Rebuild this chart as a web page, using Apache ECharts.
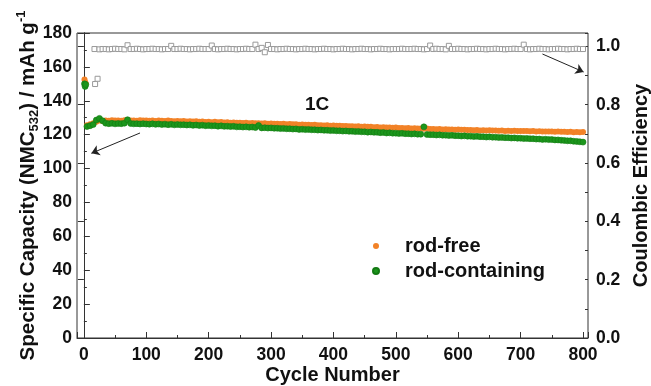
<!DOCTYPE html>
<html>
<head>
<meta charset="utf-8">
<script src="https://cdn.jsdelivr.net/npm/echarts@6/dist/echarts.min.js"></script>
<style>
html,body{margin:0;padding:0;background:#fff;}
#chart{width:651px;height:386px;}
</style>
</head>
<body>
<div id="chart"></div>
<script>
// ---- data ----
const cycles = [1,2,3,5,10,15,20,25,30,35,40,45,50,55,60,65,70,75,80,85,90,95,100,
105,110,115,120,125,130,135,140,145,150,155,160,165,170,175,180,185,190,195,200,
205,210,215,220,225,230,235,240,245,250,255,260,265,270,275,280,285,290,295,300,
305,310,315,320,325,330,335,340,345,350,355,360,365,370,375,380,385,390,395,400,
405,410,415,420,425,430,435,440,445,450,455,460,465,470,475,480,485,490,495,500,
505,510,515,520,525,530,535,540,545,550,555,560,565,570,575,580,585,590,595,600,
605,610,615,620,625,630,635,640,645,650,655,660,665,670,675,680,685,690,695,700,
705,710,715,720,725,730,735,740,745,750,755,760,765,770,775,780,785,790,795,800];

const rodFree = [152.5,151.0,150.2,
125.6,126.2,126.8,127.6,128.3,128.1,128.4,128.2,128.5,128.3,
128.4,128.2,128.5,128.6,128.3,128.4,128.2,128.5,128.3,128.4,
128.2,128.3,128.1,128.4,128.2,128.0,128.3,128.1,127.9,128.1,
127.9,128.0,127.8,127.9,127.7,127.9,127.6,127.8,127.5,127.6,
127.4,127.6,127.3,127.5,127.2,127.4,127.1,127.2,127.0,127.1,
126.9,127.0,126.8,126.9,126.7,126.8,126.6,126.7,126.5,126.6,
126.4,126.5,126.3,126.4,126.2,126.3,126.1,126.2,125.9,126.0,
125.8,125.9,125.7,125.8,125.6,125.6,125.4,125.5,125.3,125.4,
125.2,125.3,125.1,125.1,124.9,125.0,124.8,124.9,124.7,124.8,
124.6,124.6,124.4,124.5,124.3,124.4,124.2,124.3,124.1,124.2,
124.0,124.0,123.8,123.9,123.7,123.8,123.6,123.6,123.5,123.6,
123.4,123.4,123.2,123.3,123.1,123.2,123.0,123.1,122.9,123.0,
122.9,122.9,122.7,122.8,122.6,122.7,122.5,122.6,122.5,122.6,
122.4,122.5,122.3,122.4,122.2,122.3,122.2,122.3,122.1,122.2,
122.1,122.1,122.0,122.1,121.9,122.0,121.9,121.9,121.8,121.9,
121.7,121.8,121.7,121.7,121.6,121.7,121.5,121.6,121.5,121.6];

const rodContaining = [150.0,148.5,149.6,
124.8,125.3,126.0,128.6,129.6,128.2,126.8,126.5,126.7,126.4,
126.6,126.5,126.8,128.8,126.6,126.4,126.5,126.3,126.5,126.3,
126.2,126.4,126.1,126.3,126.0,126.2,125.9,126.1,125.8,126.0,
125.8,125.9,125.7,125.8,125.5,125.7,125.4,125.6,125.3,125.4,
125.2,125.3,125.0,125.2,124.9,125.0,124.8,124.9,124.6,124.7,
124.5,124.6,124.4,124.5,124.2,125.4,124.0,124.1,123.9,124.0,
123.8,123.8,123.6,123.7,123.5,123.5,123.3,123.4,123.1,123.2,
123.0,123.1,122.9,122.9,122.7,122.8,122.6,122.6,122.4,122.5,
122.3,122.3,122.1,122.2,122.0,122.0,121.8,121.9,121.7,121.7,
121.5,121.6,121.4,121.4,121.2,121.3,121.0,121.1,120.9,120.9,
120.7,120.8,120.6,120.6,120.4,120.5,120.3,120.3,124.6,120.1,
120.0,120.0,119.8,119.9,119.7,119.7,119.5,119.6,119.4,119.4,
119.2,119.3,119.1,119.1,118.9,119.0,118.8,118.8,118.6,118.7,
118.5,118.5,118.3,118.4,118.2,118.2,118.0,118.1,117.9,117.9,
117.7,117.8,117.6,117.6,117.4,117.4,117.2,117.3,117.1,117.1,
116.9,116.9,116.7,116.6,116.4,116.4,116.1,116.0,115.8,115.6];

const ceCycles = [17,18,22,25,30,35,40,45,50,55,60,65,70,75,80,85,90,95,100,
105,110,115,120,125,130,135,140,145,150,155,160,165,170,175,180,185,190,195,200,
205,210,215,220,225,230,235,240,245,250,255,260,265,270,275,280,285,290,295,300,
305,310,315,320,325,330,335,340,345,350,355,360,365,370,375,380,385,390,395,400,
405,410,415,420,425,430,435,440,445,450,455,460,465,470,475,480,485,490,495,500,
505,510,515,520,525,530,535,540,545,550,555,560,565,570,575,580,585,590,595,600,
605,610,615,620,625,630,635,640,645,650,655,660,665,670,675,680,685,690,695,700,
705,710,715,720,725,730,735,740,745,750,755,760,765,770,775,780,785,790,795,800];

const coulombicEff = [0.991,0.871,0.889,
0.990,0.991,0.991,0.990,0.991,0.992,0.991,0.991,0.990,1.004,
0.991,0.991,0.992,0.991,0.990,0.991,0.991,0.992,0.991,0.991,
0.990,0.991,0.991,1.002,0.991,0.991,0.992,0.991,0.991,0.990,
0.991,0.991,0.992,0.991,0.991,0.991,1.003,0.991,0.990,0.991,
0.991,0.992,0.991,0.991,0.990,0.991,0.991,0.992,0.991,0.991,
1.006,0.991,0.995,0.980,1.005,0.991,0.991,0.990,0.991,0.991,
0.992,0.991,0.991,0.990,0.991,0.991,0.992,0.991,0.991,0.990,
0.991,0.991,0.992,0.991,0.991,0.990,0.991,0.991,0.992,0.991,
0.991,0.990,0.991,0.991,0.992,0.991,0.991,0.990,0.991,0.991,
0.992,0.991,0.991,0.990,0.991,0.991,0.991,0.992,0.991,0.991,
0.991,0.992,0.991,0.991,0.990,0.991,1.003,0.991,0.992,0.991,
0.991,0.990,1.002,0.991,0.991,0.992,0.991,0.991,0.990,0.991,
0.991,0.992,0.991,0.991,0.990,0.991,0.991,0.992,0.991,0.991,
0.990,0.991,0.991,0.992,0.991,0.991,1.006,0.991,0.990,0.991,
0.991,0.992,0.991,0.991,0.990,0.991,0.991,0.992,0.991,0.991,
0.990,0.991,0.991,0.992,0.991,0.991];

const xTickLabels = ['0','100','200','300','400','500','600','700','800'];
const seriesNames = ['rod-free','rod-containing','Coulombic Efficiency'];
// annotation arrows (data coordinates: cycle, capacity)
const arrowLeft = [[90,121],[12,109]];
const arrowRight = [[735,167.6],[801,157]];
const rateLabel = '1C';

// ---- chart ----
const FONT = '"Liberation Sans", Arial, sans-serif';
const axisCol = '#333';
const txtCol = '#111';
const pair = (xs, ys) => xs.map((x, i) => [x, ys[i]]);

const chart = echarts.init(document.getElementById('chart'), null, {renderer: 'canvas'});
const labelStyle = {fontFamily: FONT, fontWeight: 'bold', fontSize: 17.5, color: txtCol};

chart.setOption({
  animation: false,
  backgroundColor: '#fff',
  textStyle: {fontFamily: FONT},
  grid: {left: 77, right: 63, top: 33, bottom: 48, show: true, borderColor: axisCol, borderWidth: 1,
    containLabel: false, outerBoundsMode: 'none'},
  legend: {
    data: [seriesNames[0], seriesNames[1]],
    orient: 'vertical', left: 367, top: 231,
    icon: 'circle', itemWidth: 6, itemHeight: 6, itemGap: 5,
    textStyle: {fontFamily: FONT, fontWeight: 'bold', fontSize: 20, color: txtCol, padding: [0, 0, 0, 21]}
  },
  graphic: [{
    type: 'text', left: 305, top: 95,
    style: {text: rateLabel, font: 'bold 19px ' + FONT, fill: txtCol}
  }],
  xAxis: [{
    type: 'value', position: 'bottom', min: -11, max: 808, splitNumber: 8,
    name: 'Cycle Number', nameLocation: 'middle', nameGap: 27, nameMoveOverlap: false,
    nameTextStyle: {fontFamily: FONT, fontWeight: 'bold', fontSize: 20, color: txtCol},
    axisLine: {show: true, lineStyle: {color: axisCol, width: 1}},
    axisTick: {show: true, inside: true, length: 6, lineStyle: {color: axisCol}},
    axisLabel: Object.assign({margin: 8, formatter: v => (xTickLabels.indexOf(String(Math.round(v))) >= 0 && Math.abs(v - Math.round(v)) < 1e-6) ? String(Math.round(v)) : ''}, labelStyle),
    splitLine: {show: false}
  }, {
    type: 'value', position: 'bottom', min: -11, max: 808, splitNumber: 16,
    axisLine: {show: false},
    axisTick: {show: true, inside: true, length: 3, lineStyle: {color: axisCol}},
    axisLabel: {show: false},
    splitLine: {show: false}
  }],
  yAxis: [{
    type: 'value', position: 'left', min: 0, max: 180, interval: 20,
    name: 'Specific Capacity (NMC{sub|532}) / mAh g{sup|-1}',
    nameLocation: 'middle', nameGap: 36, nameRotate: 90, nameMoveOverlap: false,
    nameTextStyle: {fontFamily: FONT, fontWeight: 'bold', fontSize: 20.5, color: txtCol, lineHeight: 26,
      rich: {
        sub: {fontFamily: FONT, fontWeight: 'bold', fontSize: 13, color: txtCol, verticalAlign: 'bottom', lineHeight: 13},
        sup: {fontFamily: FONT, fontWeight: 'bold', fontSize: 13, color: txtCol, verticalAlign: 'top', lineHeight: 13}
      }},
    axisLine: {show: true, lineStyle: {color: axisCol, width: 1}},
    axisTick: {show: true, inside: true, length: 6, lineStyle: {color: axisCol}},
    minorTick: {show: true, splitNumber: 2, length: 3, lineStyle: {color: axisCol}},
    axisLabel: Object.assign({margin: 5}, labelStyle),
    splitLine: {show: false}
  }, {
    type: 'value', position: 'right', min: 0, max: 1.046, interval: 0.2,
    name: 'Coulombic Efficiency', nameLocation: 'middle', nameGap: 43, nameRotate: 90, nameMoveOverlap: false,
    nameTextStyle: {fontFamily: FONT, fontWeight: 'bold', fontSize: 20, color: txtCol},
    axisLine: {show: true, lineStyle: {color: axisCol, width: 1}},
    axisTick: {show: true, inside: true, length: 6, lineStyle: {color: axisCol}},
    axisLabel: Object.assign({margin: 8, formatter: v => (Math.abs(v * 5 - Math.round(v * 5)) < 1e-6) ? v.toFixed(1) : ''}, labelStyle),
    splitLine: {show: false}
  }, {
    type: 'value', position: 'right', min: 0, max: 1.046, interval: 0.1,
    axisLine: {show: false},
    axisTick: {show: true, inside: true, length: 3, lineStyle: {color: axisCol}},
    axisLabel: {show: false},
    splitLine: {show: false}
  }],
  series: [{
    name: seriesNames[0], type: 'scatter', xAxisIndex: 0, yAxisIndex: 0,
    symbol: 'circle', symbolSize: 6,
    itemStyle: {color: '#F28227', opacity: 1},
    data: pair(cycles, rodFree),
    markLine: {
      silent: true, symbol: ['none', 'arrow'], symbolSize: 8, precision: 3,
      label: {show: false},
      lineStyle: {color: '#222', width: 1, type: 'solid'},
      data: [
        [{coord: arrowLeft[0]}, {coord: arrowLeft[1]}],
        [{coord: arrowRight[0]}, {coord: arrowRight[1]}]
      ]
    }
  }, {
    name: seriesNames[1], type: 'scatter', xAxisIndex: 0, yAxisIndex: 0,
    symbol: 'circle', symbolSize: 6,
    itemStyle: {color: '#1C961C', borderColor: '#137a13', borderWidth: 0.6, opacity: 1},
    data: pair(cycles, rodContaining)
  }, {
    name: seriesNames[2], type: 'scatter', xAxisIndex: 0, yAxisIndex: 1,
    symbol: 'rect', symbolSize: 5,
    itemStyle: {color: '#fff', borderColor: '#999', borderWidth: 1, opacity: 1},
    data: pair(ceCycles, coulombicEff)
  }]
});
</script>
</body>
</html>
